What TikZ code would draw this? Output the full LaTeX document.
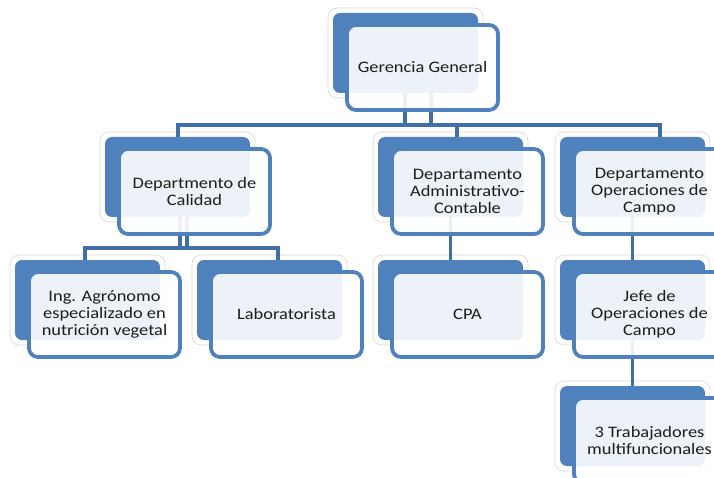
\documentclass[tikz,border=0pt]{standalone}
\usepackage{fontspec}
\setmainfont{Carlito}[FakeStretch=1.15]

\pgfdeclarelayer{halo}
\pgfdeclarelayer{links}
\pgfsetlayers{halo,links,main}

\definecolor{accent}{RGB}{79,129,189}
\definecolor{linkblue}{RGB}{66,111,163}
\definecolor{inktext}{RGB}{28,28,28}

\tikzset{
  backbox/.style={rectangle, rounded corners=7pt, fill=accent,
    minimum width=145pt, minimum height=80pt, inner sep=0pt, outer sep=0pt},
  frontbox/.style={rectangle, rounded corners=9pt, draw=accent, line width=3.8pt,
    fill=white, fill opacity=0.9, text opacity=1,
    minimum width=151pt, minimum height=85pt, inner sep=0pt, outer sep=0pt,
    align=center, text=inktext, font=\fontsize{16}{16.8}\selectfont},
  halobox/.style={rectangle, rounded corners=9pt, draw=black!16, line width=0.6pt,
    fill=white, minimum width=155pt, minimum height=90pt, inner sep=0pt},
  link/.style={draw=linkblue, line width=3.3pt},
}

% one org-chart unit: name, left x, top y, label
\newcommand\orgunit[4]{%
  \begin{pgfonlayer}{halo}
    \node[halobox] (#1-h) at (#2+72.5,#3+40) {};
  \end{pgfonlayer}
  \node[backbox] (#1-b) at (#2+72.5,#3+40) {};
  \node[frontbox] (#1) at (#2+89.5,#3+54.5) {#4};
}

\begin{document}
\begin{tikzpicture}[x=1pt,y=-1pt]
  \path[use as bounding box] (0,0) rectangle (714,478);
  \clip (0,0) rectangle (714,478);

  \orgunit{ger}{333}{13}{Gerencia General}
  \orgunit{cal}{105}{137}{Departmento de\\Calidad}
  \orgunit{adm}{378}{137}{Departamento\\Administrativo-\\Contable}
  \orgunit{ope}{560}{137}{Departamento\\Operaciones de\\Campo}
  \orgunit{ing}{15}{260}{Ing. Agrónomo\\especializado en\\nutrición vegetal}
  \orgunit{lab}{197}{260}{Laboratorista}
  \orgunit{cpa}{378}{260}{CPA}
  \orgunit{jef}{560}{260}{Jefe de\\Operaciones de\\Campo}
  \orgunit{tra}{560}{386}{3 Trabajadores\\multifuncionales}

  % bus junctions
  \coordinate (gA) at (405,125);
  \coordinate (gB) at (431,125);
  \coordinate (busTL) at (178,125);
  \coordinate (busTM) at (457,125);
  \coordinate (busTR) at (660,125);
  \coordinate (cA) at (180,248);
  \coordinate (cB) at (187,248);
  \coordinate (busCL) at (85,248);
  \coordinate (busCR) at (278,248);

  \begin{pgfonlayer}{links}
    \draw[link] (ger-b.south -| gA) -- (gA);
    \draw[link] (ger-b.south -| gB) -- (gB);
    \draw[link] (cal-b.north -| busTL) -- (busTL) -- (busTR) -- (ope-b.north -| busTR);
    \draw[link] (busTM) -- (adm-b.north -| busTM);

    \draw[link] (cal-b.south -| cA) -- (cA);
    \draw[link] (cal-b.south -| cB) -- (cB);
    \draw[link] (ing-b.north -| busCL) -- (busCL) -- (busCR) -- (lab-b.north -| busCR);

    \draw[link] (adm-b.south) -- (cpa-b.north);
    \draw[link] (ope-b.south) -- (jef-b.north);
    \draw[link] (jef-b.south) -- (tra-b.north);
  \end{pgfonlayer}
\end{tikzpicture}
\end{document}
